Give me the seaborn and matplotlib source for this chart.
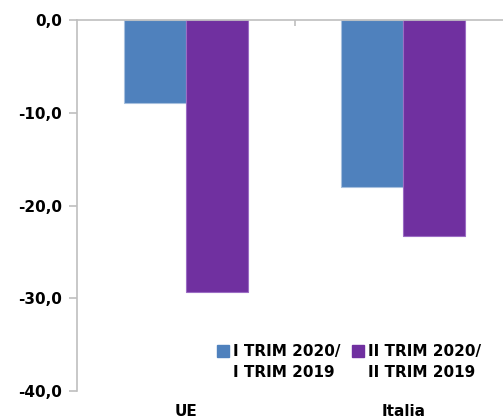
import matplotlib
matplotlib.use("Agg")
import matplotlib.pyplot as plt
from matplotlib.lines import Line2D
import seaborn as sns
import pandas as pd

categories = ["UE", "Italia"]
series_names = ["I TRIM 2020/\nI TRIM 2019", "II TRIM 2020/\nII TRIM 2019"]
q1_values = [-9.0, -18.0]
q2_values = [-29.3, -23.3]
y_ticks = [0, -10, -20, -30, -40]
y_tick_labels = ["0,0", "-10,0", "-20,0", "-30,0", "-40,0"]
colors = ["#4F81BD", "#7030A0"]
edge_colors = ["#A7C0DE", "#9B6CC4"]

df = pd.DataFrame({
    "cat": categories * 2,
    "serie": [series_names[0]] * 2 + [series_names[1]] * 2,
    "val": q1_values + q2_values,
})

sns.set_style("white")
plt.rcParams["font.family"] = ["DejaVu Sans"]
plt.rcParams["text.color"] = "black"
plt.rcParams["xtick.labelcolor"] = "black"
plt.rcParams["ytick.labelcolor"] = "black"

W, H = 503, 420
fig = plt.figure(figsize=(W / 100, H / 100), dpi=100)
ax = fig.add_axes([77 / W, (H - 391) / H, (512 - 77) / W, (391 - 20) / H])

sns.barplot(data=df, x="cat", y="val", hue="serie", order=categories,
            hue_order=series_names, palette=colors, width=0.57,
            ax=ax, legend=False, saturation=1)

for i, cont in enumerate(ax.containers):
    for p in cont:
        p.set_edgecolor(edge_colors[i])
        p.set_linewidth(0.8)

ax.set_xlim(-0.5, 1.5)
ax.set_ylim(-40, 0)
ax.set_yticks(y_ticks)
ax.set_yticklabels(y_tick_labels, fontsize=11, fontweight="bold", color="black")
ax.set_xticks(range(len(categories)))
ax.set_xticklabels(categories, fontsize=11, fontweight="bold", color="black")
ax.set_xlabel("")
ax.set_ylabel("")

spine_c = "#BFBFBF"
for s in ["right", "bottom"]:
    ax.spines[s].set_visible(False)
ax.spines["left"].set_color(spine_c)
ax.spines["top"].set_color(spine_c)
ax.spines["left"].set_linewidth(1.2)
ax.spines["top"].set_linewidth(1.2)

ax.tick_params(axis="y", left=True, length=6, color=spine_c, width=1.2, pad=5)
ax.tick_params(axis="x", which="major", bottom=False, length=0, pad=9)
ax.set_xticks([0.5], minor=True)
ax.tick_params(axis="x", which="minor", top=True, bottom=False,
               direction="in", length=4, color=spine_c, width=1.2)

# legend: marker aligned with the first line of each two-line label
handles = []
labels = []
for c, name in zip(colors, series_names):
    first, second = name.split("\n")
    handles.append(Line2D([0], [0], marker="s", linestyle="", markersize=8,
                          markerfacecolor=c, markeredgecolor=c))
    labels.append(first)
    handles.append(Line2D([0], [0], linestyle="", marker=None))
    labels.append(second)

fig.legend(handles, labels, loc="upper left",
           bbox_to_anchor=(217 / W, 1 - 344 / H), ncol=2, frameon=False,
           prop={"size": 11, "weight": "bold"}, handlelength=0.8,
           handletextpad=0.25, columnspacing=0.75, borderaxespad=0,
           borderpad=0, labelspacing=0.4, labelcolor="black")

fig.savefig("out.png", dpi=100)
